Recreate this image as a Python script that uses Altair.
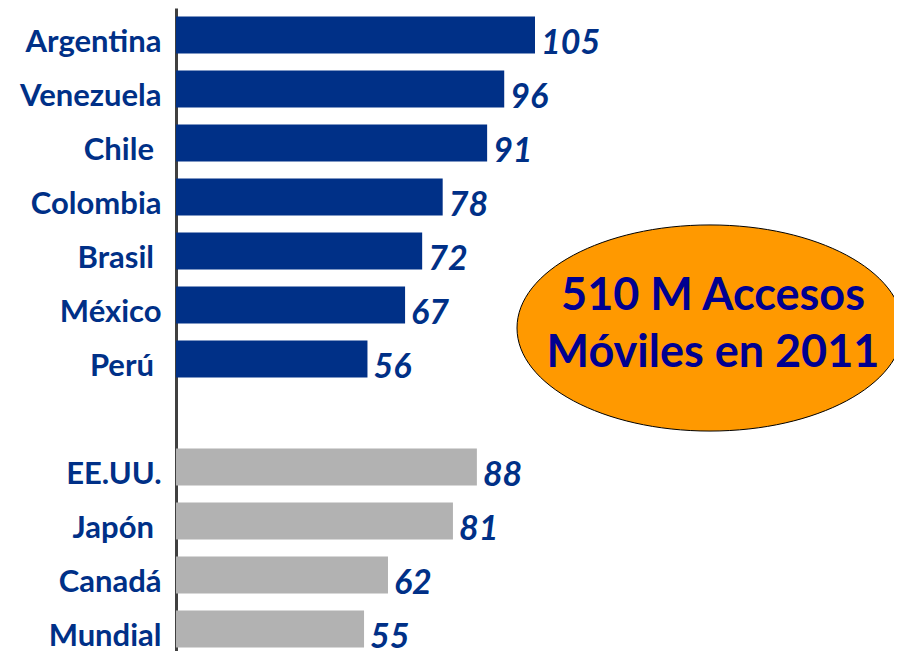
import altair as alt
import pandas as pd

countries = ["Argentina", "Venezuela", "Chile", "Colombia", "Brasil", "México", "Perú",
             "EE.UU.", "Japón", "Canadá", "Mundial"]
values = [105, 96, 91, 78, 72, 67, 56, 88, 81, 62, 55]
groups = ["LatAm"] * 7 + ["Ref"] * 4
gap_label = " "
y_domain = countries[:7] + [gap_label] + countries[7:]
bubble_lines = ["510 M Accesos", "Móviles en 2011"]

df = pd.DataFrame({"country": countries, "value": values, "group": groups})

BLUE = "#003087"
GREY = "#B2B2B2"
FONT = "Lato"
PAD = "\u00a0\u200b"

y_enc = alt.Y(
    "country:N",
    sort=y_domain,
    scale=alt.Scale(domain=y_domain, paddingInner=0.315, paddingOuter=0.1575),
    axis=alt.Axis(
        title=None, ticks=False, grid=False, domain=True,
        domainColor="#404040", domainWidth=3,
        labelFont=FONT, labelFontSize=31, labelFontWeight="bold",
        labelColor=BLUE, labelPadding=15, labelBaseline="alphabetic",
        labelOffset=17, labelLimit=300,
        labelExpr="indexof(['Chile','Brasil','Perú','Japón'], datum.value) >= 0 ? datum.value + '" + PAD + "' : datum.value",
    ),
)
x_enc = alt.X("value:Q", scale=alt.Scale(domain=[0, 210], nice=False), axis=None)

bars = alt.Chart(df).mark_bar().encode(
    x=x_enc, y=y_enc,
    color=alt.Color("group:N", scale=alt.Scale(domain=["LatAm", "Ref"], range=[BLUE, GREY]), legend=None),
)

labels = alt.Chart(df).mark_text(
    align="left", baseline="alphabetic", dx=6, dy=19,
    font=FONT, fontSize=34, fontWeight="bold", fontStyle="italic", color=BLUE,
).encode(x=x_enc, y=alt.Y("country:N", sort=y_domain), text="value:Q")

ellipse_path = "M -1 0 A 1 0.534 0 1 1 1 0 A 1 0.534 0 1 1 -1 0 Z"
ellipse = alt.Chart(pd.DataFrame({"k": [0]})).mark_point(
    shape=ellipse_path, size=386 ** 2, filled=True, fill="#FF9900",
    stroke="#000000", strokeWidth=1, opacity=1, fillOpacity=1,
).encode(x=alt.value(534), y=alt.value(320))

bubble_text = alt.Chart(pd.DataFrame({"k": [0]})).mark_text(
    align="center", baseline="alphabetic", font=FONT, fontSize=45,
    fontWeight="bold", color="#000090", lineHeight=57,
).encode(x=alt.value(537), y=alt.value(302), text=alt.value(bubble_lines))

chart = alt.layer(bars, labels, ellipse, bubble_text).properties(
    width=718, height=648,
    padding={"left": 168, "top": 0, "right": 0, "bottom": 0},
    autosize=alt.AutoSizeParams(type="none"),
).configure_view(stroke=None)

chart.save("out.html", embed_options={"renderer": "svg", "actions": False})
